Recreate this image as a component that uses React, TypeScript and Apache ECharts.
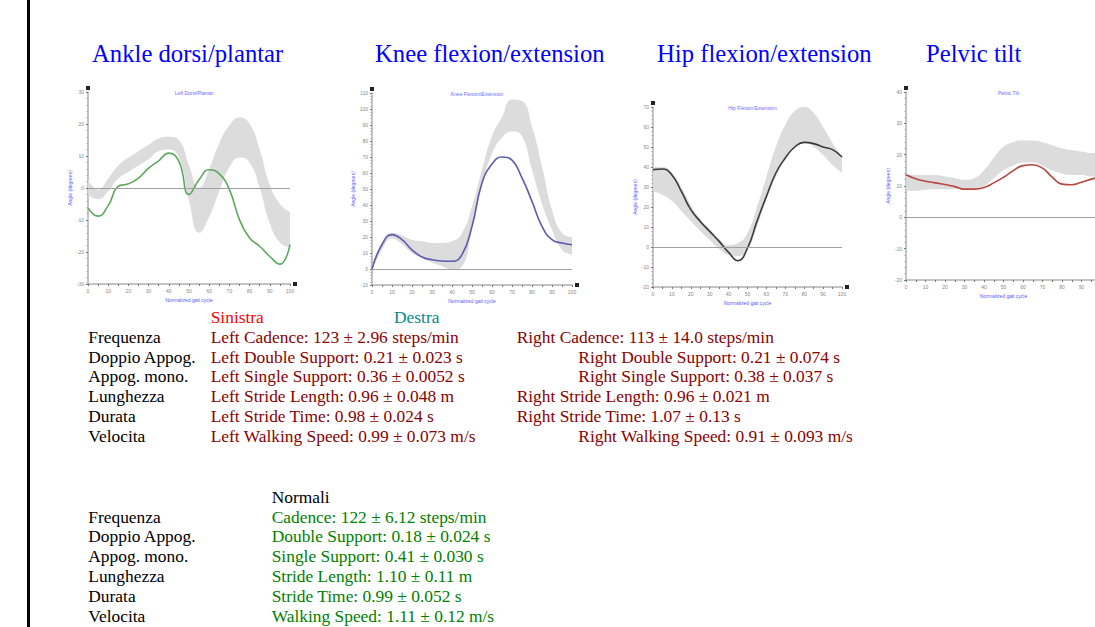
import React, { useEffect, useRef } from "react";
import * as echarts from "echarts";

// ---------- data ----------
const gaitPct = [0, 5, 10, 15, 20, 25, 30, 35, 40, 45, 50, 55, 60, 65, 70, 75, 80, 85, 90, 95, 100];

const ankleMean = [-6.2, -8.8, -5.5, 0.5, 1.3, 3.1, 6.2, 8.5, 10.9, 8.3, -2, 2.6, 5.7, 4.4, -0.5, -9.9, -15.6, -18.2, -21.4, -23.8, -17.7];
const ankleUpper = [2.5, -0.5, 3, 7, 9.5, 11.5, 13.5, 15.5, 16, 15, 7, 0, 6, 14, 19.5, 22, 20, 12, 1, -5, -7.5];
const ankleLower = [-2, -3.5, -1, 3, 5, 7, 9, 11.5, 12, 9.5, -4, -14, -9, -1, 6.5, 9.5, 8, 0, -11, -17, -18.5];

const kneeMean = [0, 15.2, 21.5, 18.3, 12, 7.5, 5.8, 5, 4.8, 9, 26.7, 53.7, 65.6, 70, 68, 56.9, 42.3, 26.7, 18.3, 16.2, 15.2];
const kneeUpper = [2, 17, 22.5, 21, 18.3, 17.3, 16.3, 16.3, 17.3, 22.5, 39, 62, 83, 95, 106, 105, 89, 64, 37, 22.5, 20];
const kneeLower = [-1, 12, 19, 15.5, 10, 6.9, 4, 1.7, -0.4, 1.5, 25, 52, 72, 82, 86, 83, 62, 41, 24.6, 12, 9];

const hipMean = [38.7, 39, 36, 27.8, 18.7, 12.8, 7.8, 2.8, -2.7, -6.8, -0.5, 12.8, 25.3, 37, 44.5, 50, 52.3, 51.7, 50, 48.7, 45];
const hipUpper = [40, 40, 37, 30, 21, 14, 9, 4, 1, 2, 7, 20, 35, 50, 61, 68, 70, 67, 60, 52, 45];
const hipLower = [28, 26, 23, 18, 13, 8, 3.5, -1, -4, -4.5, -1.5, 10, 24, 35, 44, 49.5, 52, 50, 46, 41, 37];

const pelvisMean = [13.6, 12.3, 11.5, 11, 10.5, 9.8, 9, 9, 9.5, 11, 12.8, 14.9, 16.5, 16.8, 15.7, 12.8, 10.6, 10.4, 11.2, 12.2, 13];
const pelvisUpper = [13.5, 13.5, 13.5, 13.5, 13, 12.5, 12, 12.5, 15, 19, 22.5, 24, 24.5, 24.5, 24, 23, 22, 21.5, 21, 20.5, 20.5];
const pelvisLower = [8.5, 8.5, 8.8, 9, 9, 9, 9, 9.2, 10, 12.5, 15, 16.5, 17.5, 17.5, 16.5, 15, 14, 13.5, 13.5, 13, 13];

const panelTitles = ["Ankle dorsi/plantar", "Knee flexion/extension", "Hip flexion/extension", "Pelvic tilt"];
const miniTitles = ["Left Dorsi/Plantar", "Knee Flexion/Extension", "Hip Flexion/Extension", "Pelvic Tilt"];
const xAxisName = "Normalized gait cycle";
const yAxisName = "Angle (degrees)";

const rowLabels = ["Frequenza", "Doppio Appog.", "Appog. mono.", "Lunghezza", "Durata", "Velocita"];
const leftHeader = "Sinistra";
const rightHeader = "Destra";
const leftValues = [
  "Left Cadence: 123 ± 2.96 steps/min",
  "Left Double Support: 0.21 ± 0.023 s",
  "Left Single Support: 0.36 ± 0.0052 s",
  "Left Stride Length: 0.96 ± 0.048 m",
  "Left Stride Time: 0.98 ± 0.024 s",
  "Left Walking Speed: 0.99 ± 0.073 m/s",
];
const rightValues = [
  "Right Cadence: 113 ± 14.0 steps/min",
  "Right Double Support: 0.21 ± 0.074 s",
  "Right Single Support: 0.38 ± 0.037 s",
  "Right Stride Length: 0.96 ± 0.021 m",
  "Right Stride Time: 1.07 ± 0.13 s",
  "Right Walking Speed: 0.91 ± 0.093 m/s",
];
const rightIndented = [false, true, true, false, false, true];
const normalHeader = "Normali";
const normalValues = [
  "Cadence: 122 ± 6.12 steps/min",
  "Double Support: 0.18 ± 0.024 s",
  "Single Support: 0.41 ± 0.030 s",
  "Stride Length: 1.10 ± 0.11 m",
  "Stride Time: 0.99 ± 0.052 s",
  "Walking Speed: 1.11 ± 0.12 m/s",
];

// ---------- layout ----------
// canvas is a bit wider than the 1095px window so the last panel is cut off by the window edge
const W = 1120;
const H = 627;
const panels = [
  { left: 88, top: 92, width: 202, height: 192, min: -30, max: 30, color: "#5ea85e", mean: ankleMean, upper: ankleUpper, lower: ankleLower, titleX: 92, lastLabel: true },
  { left: 372, top: 93, width: 200, height: 192, min: -10, max: 110, color: "#5c5cae", mean: kneeMean, upper: kneeUpper, lower: kneeLower, titleX: 375, lastLabel: true },
  { left: 653, top: 107, width: 189, height: 180, min: -20, max: 70, color: "#3a3a3a", mean: hipMean, upper: hipUpper, lower: hipLower, titleX: 657, lastLabel: true },
  { left: 906, top: 92, width: 195, height: 188, min: -20, max: 40, color: "#b5473f", mean: pelvisMean, upper: pelvisUpper, lower: pelvisLower, titleX: 926, lastLabel: false },
];

const SERIF = '"Liberation Serif", "Times New Roman", serif';
const TEXT_SIZE = 17.4;
const TITLE_SIZE = 24.7;

function txt(text: string, x: number, y: number, fill: string, size = TEXT_SIZE) {
  return {
    type: "text",
    style: { text, x, y, fill, fontSize: size, fontFamily: SERIF, textVerticalAlign: "middle", verticalAlign: "middle" },
    silent: true,
  };
}

function buildOption() {
  const grid = panels.map((p) => ({ left: p.left, top: p.top, right: W - p.left - p.width, bottom: H - p.top - p.height }));
  const xAxis = panels.map((p, i) => ({
    type: "category",
    gridIndex: i,
    data: gaitPct.map(String),
    boundaryGap: false,
    name: xAxisName,
    nameLocation: "middle",
    nameGap: 13,
    nameTextStyle: { fontSize: 5, color: "#5a5aff" },
    axisLine: { onZero: false, lineStyle: { color: "#b0b0b0", width: 1.5 } },
    axisTick: { show: true, interval: 0, length: 2, lineStyle: { color: "#777" } },
    axisLabel: {
      fontSize: 5, color: "#888", margin: 4,
      interval: (idx: number) => idx % 2 === 0 && (p.lastLabel || idx < gaitPct.length - 1),
    },
    splitLine: { show: false },
  }));
  const yAxis = panels.map((p, i) => ({
    type: "value",
    gridIndex: i,
    min: p.min,
    max: p.max,
    interval: 10,
    name: yAxisName,
    nameLocation: "middle",
    nameGap: 15,
    nameRotate: 90,
    nameTextStyle: { fontSize: 5, color: "#5a5aff" },
    axisLine: { show: true, lineStyle: { color: "#b0b0b0", width: 1.5 } },
    axisTick: { show: true, length: 2, lineStyle: { color: "#777" } },
    minorTick: { show: true, splitNumber: 5, length: 1.5, lineStyle: { color: "#aaa" } },
    axisLabel: { fontSize: 5, color: "#888", margin: 4 },
    splitLine: { show: false },
  }));
  const series: any[] = [];
  panels.forEach((p, i) => {
    series.push({
      type: "line", xAxisIndex: i, yAxisIndex: i, stack: "band" + i, stackStrategy: "all",
      data: p.lower, smooth: true, symbol: "none", lineStyle: { opacity: 0 }, silent: true, z: 1,
    });
    series.push({
      type: "line", xAxisIndex: i, yAxisIndex: i, stack: "band" + i, stackStrategy: "all",
      data: p.upper.map((u, j) => u - p.lower[j]), smooth: true, symbol: "none",
      lineStyle: { opacity: 0 }, areaStyle: { color: "#dcdcdc", opacity: 1 }, silent: true, z: 1,
    });
    series.push({
      type: "line", xAxisIndex: i, yAxisIndex: i, data: p.mean, smooth: true, symbol: "none",
      lineStyle: { color: p.color, width: 1.6 }, silent: true, z: 3,
      markLine: {
        silent: true, symbol: "none", label: { show: false },
        lineStyle: { color: "#a0a0a0", width: 1, type: "solid" },
        data: [{ yAxis: 0 }],
      },
    });
  });

  const graphic: any[] = [];
  graphic.push({ type: "rect", shape: { x: 27, y: 0, width: 3, height: H }, style: { fill: "#000" }, silent: true });
  panels.forEach((p, i) => {
    graphic.push(txt(panelTitles[i], p.titleX, 53.4, "#0000ff", TITLE_SIZE));
    graphic.push({ type: "rect", shape: { x: p.left - 2, y: p.top - 6, width: 4, height: 4 }, style: { fill: "#222" }, silent: true });
    graphic.push({ type: "rect", shape: { x: p.left + p.width + 3, y: p.top + p.height - 2, width: 4, height: 4 }, style: { fill: "#222" }, silent: true });
  });

  const rowY0 = 336.8;
  const rowStep = 19.8;
  graphic.push(txt(leftHeader, 210.7, rowY0 - rowStep, "#ff0000"));
  graphic.push(txt(rightHeader, 394, rowY0 - rowStep, "#008b8b"));
  rowLabels.forEach((lab, r) => {
    const y = rowY0 + r * rowStep;
    graphic.push(txt(lab, 88.3, y, "#000"));
    graphic.push(txt(leftValues[r], 210.7, y, "#8b0000"));
    graphic.push(txt(rightValues[r], rightIndented[r] ? 578.3 : 516.7, y, "#8b0000"));
  });
  const nY0 = 516.5;
  graphic.push(txt(normalHeader, 271.7, nY0 - rowStep, "#000"));
  rowLabels.forEach((lab, r) => {
    const y = nY0 + r * rowStep;
    graphic.push(txt(lab, 88.3, y, "#000"));
    graphic.push(txt(normalValues[r], 271.7, y, "#008000"));
  });

  return {
    animation: false,
    backgroundColor: "#ffffff",
    title: panels.map((p, i) => ({
      text: miniTitles[i],
      left: p.left + p.width / 2,
      top: p.top - 7,
      textAlign: "center",
      textStyle: { fontSize: 5, color: "#6b6bff", fontWeight: "normal" },
    })),
    grid,
    xAxis,
    yAxis,
    series,
    graphic,
  };
}

export default function App() {
  const ref = useRef<HTMLDivElement>(null);
  useEffect(() => {
    if (!ref.current) return;
    const chart = echarts.init(ref.current, undefined, { renderer: "svg" });
    chart.setOption(buildOption() as any);
    return () => chart.dispose();
  }, []);
  return (
    <div style={{ position: "fixed", left: 0, top: 0, width: "100vw", height: H, overflow: "hidden", background: "#fff" }}>
      <div ref={ref} style={{ position: "absolute", left: 0, top: 0, width: W, height: H }} />
    </div>
  );
}
